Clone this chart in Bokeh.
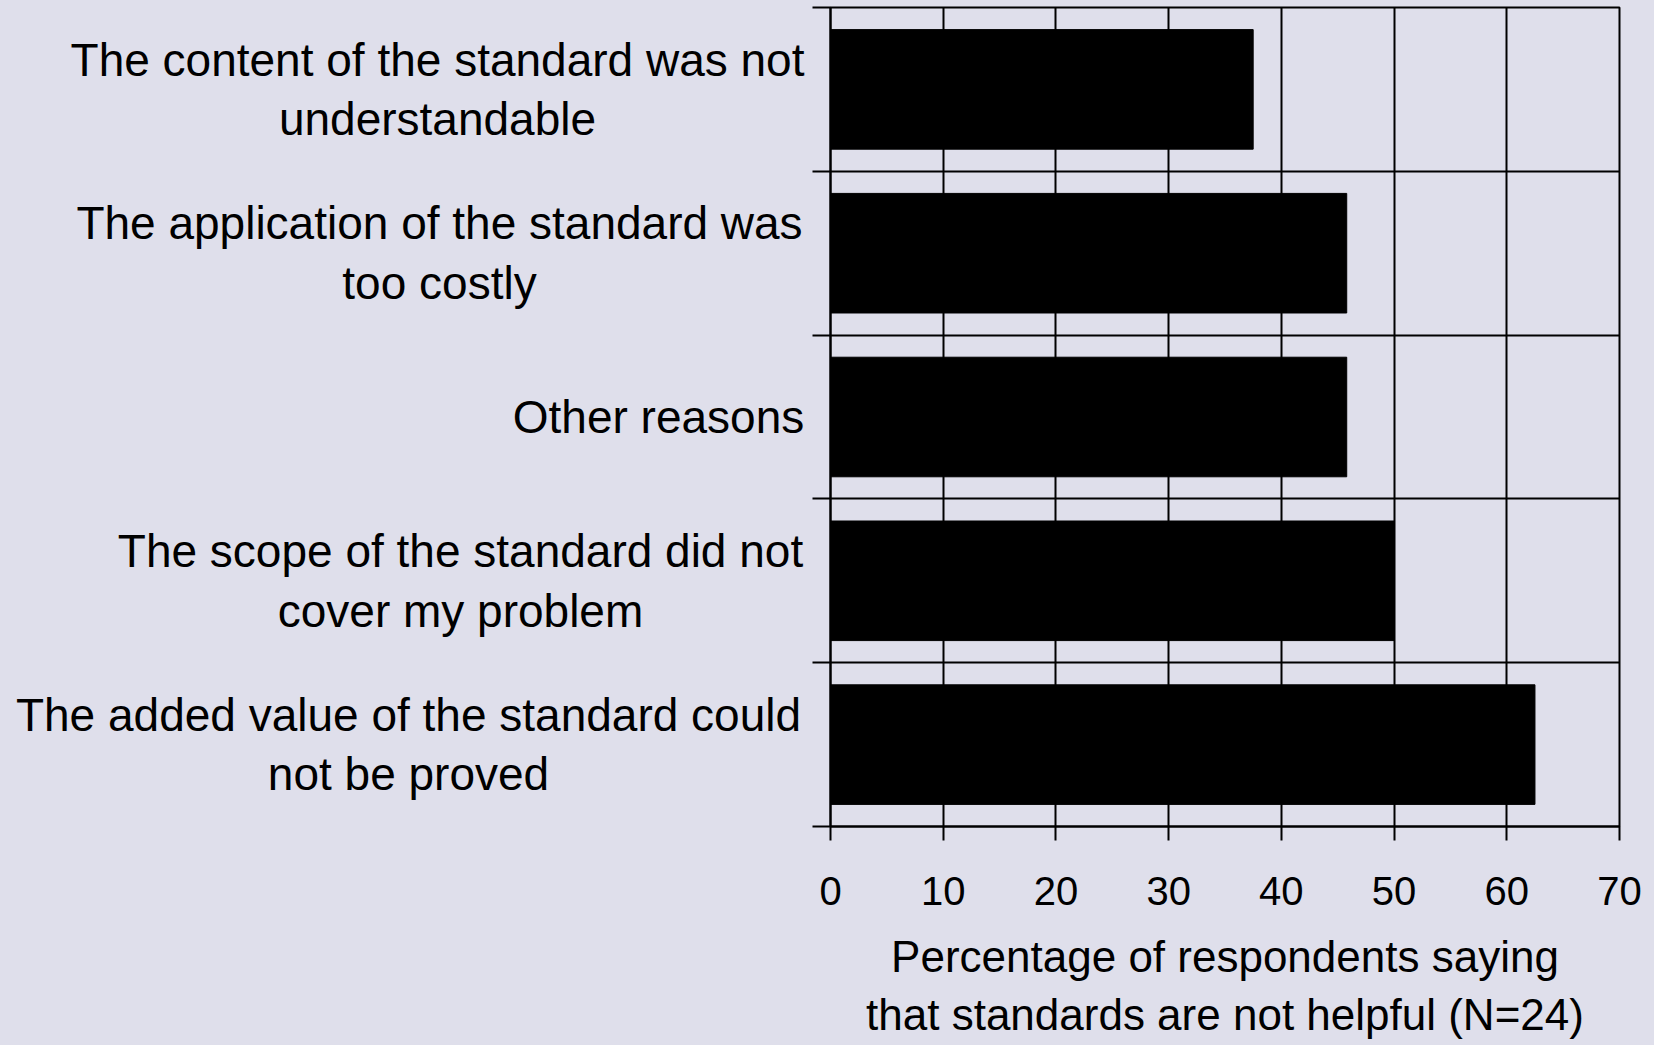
from bokeh.plotting import figure
from bokeh.models import FixedTicker, Range1d, ColumnDataSource
from bokeh.layouts import row
from bokeh.core.properties import value
from bokeh.embed import file_html
from bokeh.resources import INLINE

# Data (top to bottom as shown)
categories = [
    "The content of the standard was not\nunderstandable",
    "The application of the standard was\ntoo costly",
    "Other reasons",
    "The scope of the standard did not\ncover my problem",
    "The added value of the standard could\nnot be proved",
]
values = [37.5, 45.8, 45.8, 50.0, 62.5]
x_ticks = [0, 10, 20, 30, 40, 50, 60, 70]
x_title = "Percentage of respondents saying\nthat standards are not helpful (N=24)"

# layout: horizontal centre (px, in the label panel) of each label block
label_centers = [437, 439, 658, 460, 408]

n = len(categories)
ypos = [n - 0.5 - i for i in range(n)]

BG = "#dfdfeb"
FONT = "Liberation Sans"
W, H = 1654, 1045
LABEL_W = 812
TOP, BOTTOM = 7, 219

yr = Range1d(0, n)

# ---- label panel (left) ----
lp = figure(width=LABEL_W, height=H, output_backend="svg", toolbar_location=None,
            x_range=Range1d(0, LABEL_W), y_range=yr,
            min_border_left=0, min_border_right=0, min_border_top=TOP, min_border_bottom=BOTTOM)
lp.axis.visible = False
lp.grid.visible = False
lp.outline_line_color = None
lp.background_fill_color = None
lp.border_fill_color = BG
lsrc = ColumnDataSource(dict(x=label_centers, y=ypos, t=categories))
lp.text(x="x", y="y", text="t", source=lsrc, text_align="center", text_baseline="middle",
        text_font=value(FONT), text_font_size="46px", text_color="black", text_line_height=1.15)

# ---- chart (right) ----
p = figure(width=W - LABEL_W, height=H, output_backend="svg", toolbar_location=None,
           x_range=Range1d(0, 70), y_range=yr,
           min_border_left=18, min_border_right=35, min_border_top=TOP, min_border_bottom=BOTTOM)
p.background_fill_color = BG
p.border_fill_color = BG
p.outline_line_color = "black"
p.outline_line_width = 2

src = ColumnDataSource(dict(y=ypos, v=values))
p.hbar(y="y", right="v", left=0, height=0.73, source=src, fill_color="black", line_color="black")

# x axis
p.xaxis.ticker = FixedTicker(ticks=x_ticks)
p.xaxis.major_tick_out = 14
p.xaxis.major_tick_in = 0
p.xaxis.minor_tick_line_color = None
p.xaxis.major_tick_line_width = 2
p.xaxis.axis_line_width = 2
p.xaxis.axis_line_color = "black"
p.xaxis.major_tick_line_color = "black"
p.xaxis.major_label_standoff = 36
p.xaxis.major_label_text_font = FONT
p.xaxis.major_label_text_font_size = "40px"
p.xaxis.major_label_text_color = "black"
p.xaxis.axis_label = x_title
p.xaxis.axis_label_text_font = FONT
p.xaxis.axis_label_text_font_size = "44px"
p.xaxis.axis_label_text_font_style = "normal"
p.xaxis.axis_label_text_color = "black"
p.xaxis.axis_label_standoff = 24

# y axis: ticks at band boundaries only
p.yaxis.ticker = FixedTicker(ticks=[], minor_ticks=list(range(n + 1)))
p.yaxis.major_tick_out = 0
p.yaxis.major_tick_in = 0
p.yaxis.minor_tick_out = 18
p.yaxis.minor_tick_in = 0
p.yaxis.minor_tick_line_color = "black"
p.yaxis.minor_tick_line_width = 2
p.yaxis.axis_line_width = 2
p.yaxis.axis_line_color = "black"
p.yaxis.major_label_standoff = 0

# grids
p.xgrid.ticker = FixedTicker(ticks=x_ticks[1:-1])
p.xgrid.grid_line_color = "black"
p.xgrid.grid_line_width = 2
p.ygrid.ticker = FixedTicker(ticks=list(range(1, n)))
p.ygrid.grid_line_color = "black"
p.ygrid.grid_line_width = 2

layout = row(lp, p, spacing=0, styles={"background-color": BG})
open("out.html", "w").write(file_html(layout, INLINE))
